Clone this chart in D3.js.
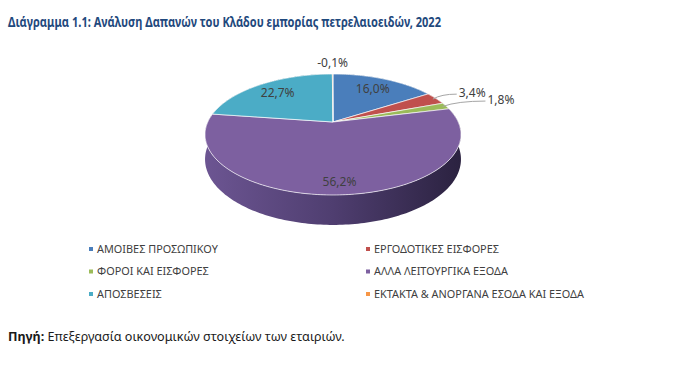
<!DOCTYPE html>
<html>
<head>
<meta charset="utf-8">
<script src="https://cdn.jsdelivr.net/npm/d3@7/dist/d3.min.js"></script>
<style>
  body { margin: 0; background: #fff; }
  svg { display: block; }
</style>
</head>
<body>
<div id="chart"></div>
<script>
// data
var categories = [
  "ΑΜΟΙΒΕΣ ΠΡΟΣΩΠΙΚΟΥ",
  "ΕΡΓΟΔΟΤΙΚΕΣ ΕΙΣΦΟΡΕΣ",
  "ΦΟΡΟΙ ΚΑΙ ΕΙΣΦΟΡΕΣ",
  "ΑΛΛΑ ΛΕΙΤΟΥΡΓΙΚΑ ΕΞΟΔΑ",
  "ΑΠΟΣΒΕΣΕΙΣ",
  "ΕΚΤΑΚΤΑ & ΑΝΟΡΓΑΝΑ ΕΣΟΔΑ ΚΑΙ ΕΞΟΔΑ"
];
var shares = [16.0, 3.4, 1.8, 56.2, 22.7, -0.1];
var colors = ["#4a7ebb", "#c0504d", "#9bbb59", "#7d60a0", "#4bacc6", "#f79646"];

var titleText = "Διάγραμμα 1.1: Ανάλυση Δαπανών του Κλάδου εμπορίας πετρελαιοειδών, 2022";
var sourceLabel = "Πηγή:";
var sourceText = " Επεξεργασία οικονομικών στοιχείων των εταιριών.";

var width = 700, height = 377;
var FONT = "'Noto Sans', 'Open Sans', sans-serif";

var svg = d3.select("#chart").append("svg")
  .attr("width", width)
  .attr("height", height);

// the original font (Calibri) is narrower: squeeze glyphs to the width they have in the picture
function squeeze(sel, target) {
  sel.attr("textLength", target).attr("lengthAdjust", "spacingAndGlyphs");
}

// title
svg.append("text")
  .attr("x", 8).attr("y", 27)
  .attr("font-family", FONT)
  .attr("font-weight", "bold")
  .attr("font-size", 14.5)
  .attr("fill", "#1f497d")
  .text(titleText)
  .call(squeeze, 433);

// --- 3d pie -------------------------------------------------------------
var cx = 333, cy = 122;   // where the slices meet
var rx = 125.2, ry = 57.9;
var persp = 0.2066;       // far side shrinks, near side grows
var depth = 0.41;         // thickness, in units of ry

var xScale = d3.scaleLinear().domain([-1, 1]).range([cx - rx, cx + rx]);
var yScale = d3.scaleLinear().domain([-1, 1]).range([cy - ry, cy + ry]);

function proj(a, r, z) {
  var u = r * Math.sin(a), v = -r * Math.cos(a);
  var w = 1 - persp * v;
  return [xScale(u / w), yScale((v + depth * z) / w)];
}

var pie = d3.pie()
  .sort(null)
  .value(function(d) { return Math.abs(d); });
var arcs = pie(shares);

function arcPts(a0, a1, r, z) {
  var n = Math.max(2, Math.ceil((a1 - a0) / 0.02));
  return d3.range(n + 1).map(function(i) { return proj(a0 + (a1 - a0) * i / n, r, z); });
}

var line = d3.line();

var defs = svg.append("defs");
var sideGrad = defs.append("linearGradient")
  .attr("id", "side")
  .attr("gradientUnits", "userSpaceOnUse")
  .attr("x1", xScale(-1.02)).attr("x2", xScale(1.02))
  .attr("y1", 0).attr("y2", 0);
sideGrad.append("stop").attr("offset", 0).attr("stop-color", "#6c5592");
sideGrad.append("stop").attr("offset", 0.5).attr("stop-color", "#4f3e70");
sideGrad.append("stop").attr("offset", 1).attr("stop-color", "#2b2240");

var pieG = svg.append("g");

// walls, farthest first
var wallOrder = arcs.slice().sort(function(a, b) {
  return -Math.cos((a.startAngle + a.endAngle) / 2) - -Math.cos((b.startAngle + b.endAngle) / 2);
});
pieG.selectAll("path.wall")
  .data(wallOrder)
  .join("path")
  .attr("class", "wall")
  .attr("d", function(d) {
    var top = arcPts(d.startAngle, d.endAngle, 1, 0);
    var bot = arcPts(d.startAngle, d.endAngle, 1, 1).reverse();
    return line(top.concat(bot)) + "Z";
  })
  .attr("fill", function(d) { return d.index === 3 ? "url(#side)" : d3.color(colors[d.index]).darker(1); });

// top faces
pieG.selectAll("path.top")
  .data(arcs)
  .join("path")
  .attr("class", "top")
  .attr("d", function(d) {
    return line([proj(0, 0, 0)].concat(arcPts(d.startAngle, d.endAngle, 1, 0))) + "Z";
  })
  .attr("fill", function(d) { return colors[d.index]; })
  .attr("stroke", "#ffffff")
  .attr("stroke-opacity", 0.75)
  .attr("stroke-width", 0.9)
  .attr("stroke-linejoin", "round");

// labels
var locale = d3.formatLocale({ decimal: ",", thousands: ".", grouping: [3], currency: ["", "€"], minus: "-" });
var fmt = locale.format(".1f");

var smallRank = 0;
var labelInfo = arcs.map(function(d) {
  var mid = (d.startAngle + d.endAngle) / 2;
  var small = Math.abs(d.data) < 5;
  var r, anchor = "middle";
  if (!small) {
    r = 0.75 + 0.1 * Math.max(0, -Math.cos(mid));  // push the front label down a bit
  } else if (d.data < 0) {
    r = 1.3;
  } else {
    r = 1.25 + 0.15 * smallRank;
    smallRank++;
    anchor = "start";
  }
  var p = proj(mid, r, 0);
  return { d: d, mid: mid, small: small, p: p, anchor: anchor };
});

// leader lines for the thin slices pushed outside
svg.append("g").selectAll("path")
  .data(labelInfo.filter(function(l) { return l.small && l.d.data > 0; }))
  .join("path")
  .attr("d", function(l) {
    var e = proj(l.mid, 0.97, 0);
    var end = [l.p[0] - 2, l.p[1] + 1];
    var c = [e[0] + (end[0] - e[0]) * 0.35, end[1]];
    return "M" + e + "Q" + c + " " + end;
  })
  .attr("fill", "none")
  .attr("stroke", "#a6a6a6")
  .attr("stroke-width", 1);

svg.append("g").selectAll("text")
  .data(labelInfo)
  .join("text")
  .attr("x", function(l) { return l.p[0]; })
  .attr("y", function(l) { return l.p[1]; })
  .attr("dy", "0.35em")
  .attr("text-anchor", function(l) { return l.anchor; })
  .attr("font-family", FONT)
  .attr("font-size", 12)
  .attr("fill", "#404040")
  .text(function(l) { return fmt(l.d.data) + "%"; });

// --- legend -------------------------------------------------------------
var colX = d3.scaleOrdinal().domain([0, 1]).range([91, 368]);
var rowY = d3.scalePoint().domain([0, 1, 2]).range([249, 294]);

var leg = svg.append("g").selectAll("g")
  .data(categories)
  .join("g")
  .attr("transform", function(d, i) { return "translate(" + colX(i % 2) + "," + rowY(Math.floor(i / 2)) + ")"; });

leg.append("rect")
  .attr("x", -2).attr("y", -2)
  .attr("width", 4).attr("height", 4)
  .attr("fill", function(d, i) { return colors[i]; });

var legTexts = leg.append("text")
  .attr("x", 6)
  .attr("dy", "0.35em")
  .attr("font-family", FONT)
  .attr("font-size", 10)
  .attr("fill", "#404040")
  .text(function(d) { return d; });

// one squeeze factor for all items, taken from the longest one
(function() {
  var lens = legTexts.nodes().map(function(n) { return n.getComputedTextLength(); });
  var k = 210 / lens[5];
  legTexts.each(function(d, i) { squeeze(d3.select(this), lens[i] * k); });
})();

// source line
var src = svg.append("text")
  .attr("x", 8).attr("y", 341)
  .attr("font-family", FONT)
  .attr("font-size", 11.5)
  .attr("fill", "#1a1a1a");
src.append("tspan").attr("font-weight", "bold").text(sourceLabel);
src.append("tspan").text(sourceText);
(function() {
  var b = src.node().getComputedTextLength();
  src.attr("font-size", (11.5 * 337 / b).toFixed(2));
})();
</script>
</body>
</html>
